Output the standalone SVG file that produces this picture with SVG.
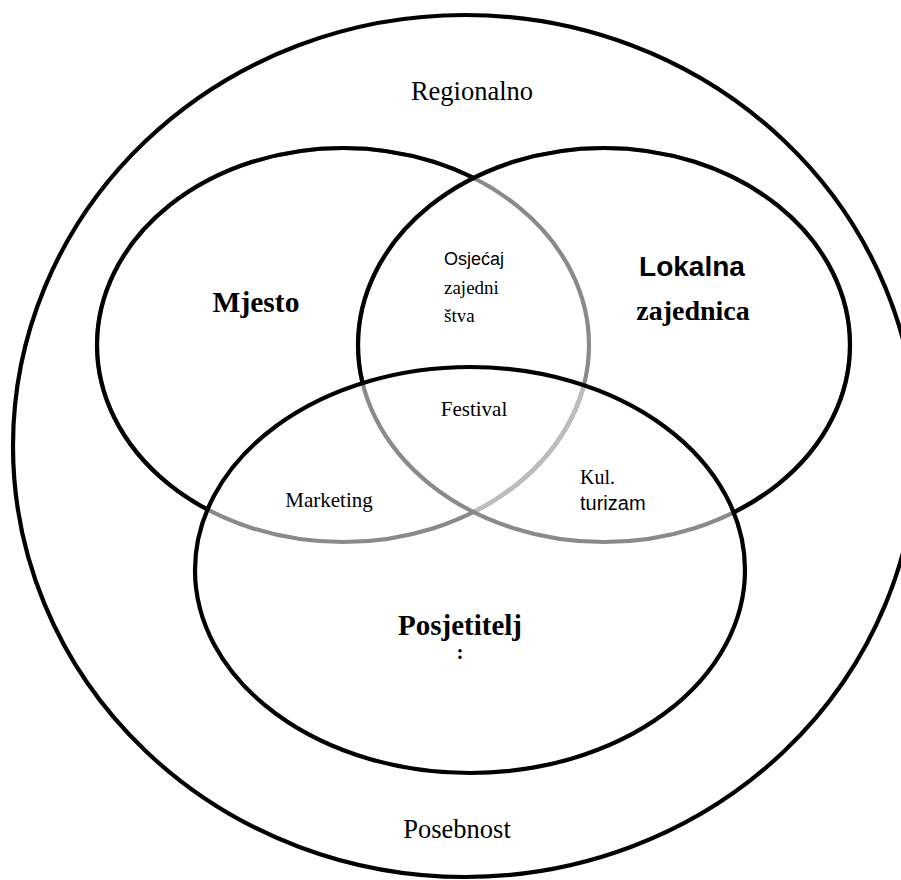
<svg xmlns="http://www.w3.org/2000/svg" width="901" height="880" viewBox="0 0 901 880">
<style>
.e{fill:none;stroke-width:4.2}
.blk{stroke:#000}
.gry{stroke:#8a8a8a}
.lgt{stroke:#bdbdbd}
.serif{font-family:"Liberation Serif","Times New Roman",serif;fill:#000}
.sans{font-family:"Liberation Sans",Arial,sans-serif;fill:#000}
.b{font-weight:bold}
</style>
<defs>
<clipPath id="inL"><ellipse cx="604" cy="345" rx="246" ry="197"/></clipPath>
<clipPath id="inP"><ellipse cx="470" cy="570" rx="275" ry="203"/></clipPath>
<clipPath id="outL"><path clip-rule="evenodd" d="M-10,-10H911V890H-10Z M358,345a246,197 0 1,0 492,0a246,197 0 1,0 -492,0Z"/></clipPath>
<clipPath id="outP"><path clip-rule="evenodd" d="M-10,-10H911V890H-10Z M195,570a275,203 0 1,0 550,0a275,203 0 1,0 -550,0Z"/></clipPath>
</defs>
<rect width="901" height="880" fill="#fff"/>
<g id="outer">
<ellipse class="e blk" cx="465" cy="446" rx="452" ry="431"/>
<text class="serif" x="472" y="100" font-size="26.5" text-anchor="middle">Regionalno</text>
<text class="serif" x="457" y="838" font-size="26.5" text-anchor="middle">Posebnost</text>
</g>
<g id="mjesto">
<ellipse class="e gry" cx="343" cy="345" rx="246" ry="197"/>
<g clip-path="url(#inL)"><g clip-path="url(#inP)"><ellipse class="e lgt" cx="343" cy="345" rx="246" ry="197"/></g></g>
<g clip-path="url(#outL)"><g clip-path="url(#outP)"><ellipse class="e blk" cx="343" cy="345" rx="246" ry="197"/></g></g>
<text class="serif b" x="256" y="312" font-size="29.5" text-anchor="middle">Mjesto</text>
</g>
<g id="lokalna">
<ellipse class="e gry" cx="604" cy="345" rx="246" ry="197"/>
<g clip-path="url(#outP)"><ellipse class="e blk" cx="604" cy="345" rx="246" ry="197"/></g>
<text class="sans b" x="692" y="276" font-size="28" text-anchor="middle">Lokalna</text>
<text class="serif b" x="693" y="320" font-size="28" text-anchor="middle">zajednica</text>
</g>
<g id="posjetitelj">
<ellipse class="e blk" cx="470" cy="570" rx="275" ry="203"/>
<text class="serif b" x="460" y="635" font-size="29" text-anchor="middle">Posjetitelj</text>
<text class="serif b" x="460" y="659" font-size="21" text-anchor="middle">:</text>
</g>
<g id="osjecaj">
<text class="sans" x="444" y="265" font-size="18">Osjećaj</text>
<text class="serif" x="444" y="294" font-size="19">zajedni</text>
<text class="serif" x="444" y="322" font-size="19">štva</text>
</g>
<g id="festival">
<text class="serif" x="474" y="416" font-size="21" text-anchor="middle">Festival</text>
</g>
<g id="marketing">
<text class="serif" x="329" y="507" font-size="21" text-anchor="middle">Marketing</text>
</g>
<g id="kulturizam">
<text class="serif" x="580" y="484" font-size="20">Kul.</text>
<text class="sans" x="580" y="510" font-size="20">turizam</text>
</g>
</svg>
